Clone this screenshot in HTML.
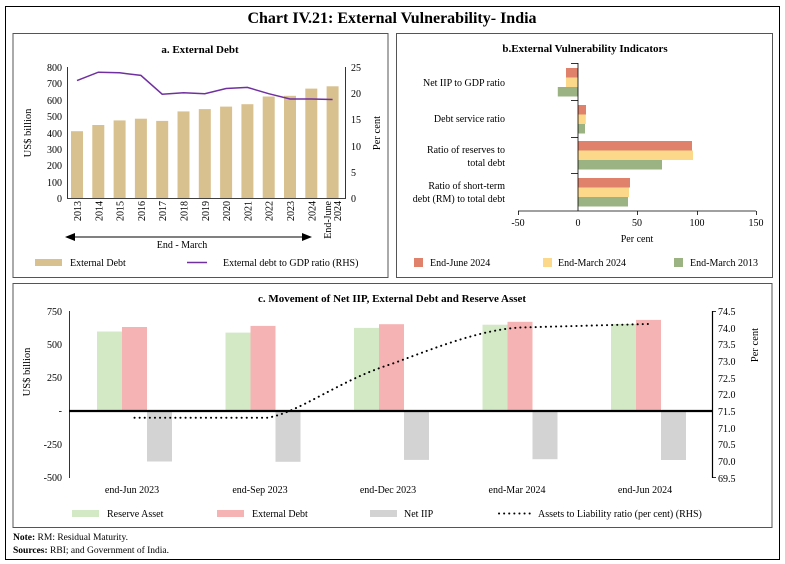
<!DOCTYPE html>
<html><head><meta charset="utf-8"><style>
html,body{margin:0;padding:0;background:#fff}
svg{display:block;font-family:"Liberation Serif",serif}
</style></head><body>
<svg width="785" height="564" viewBox="0 0 785 564" xmlns="http://www.w3.org/2000/svg">
<rect x="5.5" y="6.5" width="774" height="553" fill="none" stroke="#000" stroke-width="1"/>
<text x="392" y="23" text-anchor="middle" font-size="16" font-weight="bold">Chart IV.21: External Vulnerability- India</text>

<!-- Panel a -->
<rect x="13" y="33.5" width="375" height="244" fill="none" stroke="#555" stroke-width="1"/>
<text x="200" y="53" text-anchor="middle" font-size="11" font-weight="bold">a. External Debt</text>
<g fill="#d9c08f">
<rect x="71" y="131.2" width="12" height="66.8"/>
<rect x="92.3" y="125" width="12" height="73"/>
<rect x="113.6" y="120.4" width="12" height="77.6"/>
<rect x="134.9" y="118.7" width="12" height="79.3"/>
<rect x="156.2" y="120.9" width="12" height="77.1"/>
<rect x="177.5" y="111.4" width="12" height="86.6"/>
<rect x="198.8" y="109.1" width="12" height="88.9"/>
<rect x="220.1" y="106.6" width="12" height="91.4"/>
<rect x="241.4" y="104.2" width="12" height="93.8"/>
<rect x="262.7" y="96.5" width="12" height="101.5"/>
<rect x="284" y="95.8" width="12" height="102.2"/>
<rect x="305.3" y="88.6" width="12" height="109.4"/>
<rect x="326.6" y="86.3" width="12" height="111.7"/>
</g>
<polyline fill="none" stroke="#7030a0" stroke-width="1.5" points="77,80.6 98.3,72.2 119.6,72.8 140.9,75.4 162.2,94.2 183.5,92.7 204.8,93.7 226.1,88.5 247.4,87.4 268.7,93.7 290,99 311.3,99 332.6,99.5"/>
<g stroke="#000" stroke-width="0.8">
<line x1="67.5" y1="67" x2="67.5" y2="198"/>
<line x1="345.5" y1="67" x2="345.5" y2="198"/>
<line x1="67" y1="198.5" x2="346" y2="198.5"/>
</g>
<g font-size="10" text-anchor="end">
<text x="62" y="71">800</text><text x="62" y="87">700</text><text x="62" y="104">600</text><text x="62" y="120">500</text><text x="62" y="137">400</text><text x="62" y="153">300</text><text x="62" y="169">200</text><text x="62" y="186">100</text><text x="62" y="202">0</text>
</g>
<g font-size="10">
<text x="351" y="71">25</text><text x="351" y="97">20</text><text x="351" y="123">15</text><text x="351" y="150">10</text><text x="351" y="176">5</text><text x="351" y="202">0</text>
</g>
<text transform="translate(31,133) rotate(-90)" text-anchor="middle" font-size="10.5">US$ billion</text>
<text transform="translate(380,133) rotate(-90)" text-anchor="middle" font-size="10.5">Per cent</text>
<g font-size="10" text-anchor="end">
<text transform="translate(81,201) rotate(-90)">2013</text>
<text transform="translate(102.3,201) rotate(-90)">2014</text>
<text transform="translate(123.6,201) rotate(-90)">2015</text>
<text transform="translate(144.9,201) rotate(-90)">2016</text>
<text transform="translate(166.2,201) rotate(-90)">2017</text>
<text transform="translate(187.5,201) rotate(-90)">2018</text>
<text transform="translate(208.8,201) rotate(-90)">2019</text>
<text transform="translate(230.1,201) rotate(-90)">2020</text>
<text transform="translate(251.4,201) rotate(-90)">2021</text>
<text transform="translate(272.7,201) rotate(-90)">2022</text>
<text transform="translate(294,201) rotate(-90)">2023</text>
<text transform="translate(315.3,201) rotate(-90)">2024</text>
<text transform="translate(331,201) rotate(-90)">End-June</text>
<text transform="translate(341,201) rotate(-90)">2024</text>
</g>
<line x1="72" y1="237" x2="305" y2="237" stroke="#000" stroke-width="1"/>
<polygon points="65,237 75,233 75,241" fill="#000"/>
<polygon points="312,237 302,233 302,241" fill="#000"/>
<text x="182" y="248" text-anchor="middle" font-size="10">End - March</text>
<rect x="35" y="259" width="27" height="7" fill="#d9c08f"/>
<text x="70" y="266" font-size="10">External Debt</text>
<line x1="187" y1="262.5" x2="207" y2="262.5" stroke="#7030a0" stroke-width="1.5"/>
<text x="223" y="266" font-size="10">External debt to GDP ratio (RHS)</text>

<!-- Panel b -->
<rect x="396.5" y="33.5" width="376" height="244" fill="none" stroke="#555" stroke-width="1"/>
<text x="585" y="52" text-anchor="middle" font-size="11" font-weight="bold">b.External Vulnerability Indicators</text>
<g>
<rect x="566" y="68" width="12" height="9.5" fill="#e0826b"/>
<rect x="566" y="77.5" width="12" height="9.5" fill="#fcd98a"/>
<rect x="557.8" y="87" width="20.2" height="9.5" fill="#9bb283"/>
<rect x="578" y="105" width="8" height="9.5" fill="#e0826b"/>
<rect x="578" y="114.5" width="7.8" height="9.5" fill="#fcd98a"/>
<rect x="578" y="124" width="7" height="9.5" fill="#9bb283"/>
<rect x="578" y="141" width="114" height="9.5" fill="#e0826b"/>
<rect x="578" y="150.5" width="115" height="9.5" fill="#fcd98a"/>
<rect x="578" y="160" width="84" height="9.5" fill="#9bb283"/>
<rect x="578" y="178" width="52" height="9.5" fill="#e0826b"/>
<rect x="578" y="187.5" width="51" height="9.5" fill="#fcd98a"/>
<rect x="578" y="197" width="50" height="9.5" fill="#9bb283"/>
</g>
<g stroke="#000" stroke-width="0.8">
<line x1="578" y1="63" x2="578" y2="211"/>
<line x1="518" y1="211" x2="756" y2="211"/>
<line x1="571" y1="63.5" x2="578" y2="63.5"/><line x1="571" y1="100.5" x2="578" y2="100.5"/><line x1="571" y1="137.5" x2="578" y2="137.5"/><line x1="571" y1="173.5" x2="578" y2="173.5"/>
<line x1="518.5" y1="211" x2="518.5" y2="215"/><line x1="637.5" y1="211" x2="637.5" y2="215"/><line x1="697.5" y1="211" x2="697.5" y2="215"/><line x1="756.5" y1="211" x2="756.5" y2="215"/>
</g>
<g font-size="10" text-anchor="middle">
<text x="518" y="226">-50</text><text x="578" y="226">0</text><text x="637" y="226">50</text><text x="697" y="226">100</text><text x="756" y="226">150</text>
</g>
<text x="637" y="242" text-anchor="middle" font-size="10">Per cent</text>
<g font-size="10" text-anchor="end">
<text x="505" y="86">Net IIP to GDP ratio</text>
<text x="505" y="122">Debt service ratio</text>
<text x="505" y="153">Ratio of reserves to</text>
<text x="505" y="166">total debt</text>
<text x="505" y="189">Ratio of short-term</text>
<text x="505" y="202">debt (RM) to total debt</text>
</g>
<rect x="414" y="258" width="9" height="9" fill="#e0826b"/>
<text x="430" y="266" font-size="10">End-June 2024</text>
<rect x="543" y="258" width="9" height="9" fill="#fcd98a"/>
<text x="558" y="266" font-size="10">End-March 2024</text>
<rect x="674" y="258" width="9" height="9" fill="#9bb283"/>
<text x="690" y="266" font-size="10">End-March 2013</text>

<!-- Panel c -->
<rect x="13" y="283.5" width="759" height="244" fill="none" stroke="#555" stroke-width="1"/>
<text x="392" y="302" text-anchor="middle" font-size="11" font-weight="bold">c. Movement of Net IIP, External Debt and Reserve Asset</text>
<g>
<rect x="97" y="331.5" width="25" height="79.5" fill="#d3e9c6"/>
<rect x="122" y="327" width="25" height="84" fill="#f6b3b3"/>
<rect x="147" y="411" width="25" height="50.5" fill="#d3d3d3"/>
<rect x="225.5" y="332.6" width="25" height="78.4" fill="#d3e9c6"/>
<rect x="250.5" y="325.9" width="25" height="85.1" fill="#f6b3b3"/>
<rect x="275.5" y="411" width="25" height="50.8" fill="#d3d3d3"/>
<rect x="354" y="327.9" width="25" height="83.1" fill="#d3e9c6"/>
<rect x="379" y="324.2" width="25" height="86.8" fill="#f6b3b3"/>
<rect x="404" y="411" width="25" height="48.9" fill="#d3d3d3"/>
<rect x="482.5" y="324.7" width="25" height="86.3" fill="#d3e9c6"/>
<rect x="507.5" y="321.8" width="25" height="89.2" fill="#f6b3b3"/>
<rect x="532.5" y="411" width="25" height="48.2" fill="#d3d3d3"/>
<rect x="611" y="323.9" width="25" height="87.1" fill="#d3e9c6"/>
<rect x="636" y="319.9" width="25" height="91.1" fill="#f6b3b3"/>
<rect x="661" y="411" width="25" height="49" fill="#d3d3d3"/>
</g>
<path d="M134.5,417.7 L268,417.7 C300,412 340,380 391.5,364 C440,346 480,330 520,327.5 L648.5,324" fill="none" stroke="#000" stroke-width="2" stroke-dasharray="0.1,5" stroke-linecap="round"/>
<g stroke="#000">
<line x1="69.5" y1="311" x2="69.5" y2="478" stroke-width="0.8"/>
<line x1="712.5" y1="311" x2="712.5" y2="478" stroke-width="1.2"/>
<line x1="69" y1="411" x2="713" y2="411" stroke-width="2.2"/>
<line x1="712" y1="311.5" x2="716" y2="311.5" stroke-width="0.8"/>
<line x1="712" y1="477.5" x2="716" y2="477.5" stroke-width="0.8"/>
</g>
<g font-size="10" text-anchor="end">
<text x="62" y="315">750</text><text x="62" y="348">500</text><text x="62" y="381">250</text><text x="62" y="414">-</text><text x="62" y="448">-250</text><text x="62" y="481">-500</text>
</g>
<g font-size="10">
<text x="718" y="315">74.5</text><text x="718" y="332">74.0</text><text x="718" y="348">73.5</text><text x="718" y="365">73.0</text><text x="718" y="382">72.5</text><text x="718" y="398">72.0</text><text x="718" y="415">71.5</text><text x="718" y="432">71.0</text><text x="718" y="448">70.5</text><text x="718" y="465">70.0</text><text x="718" y="482">69.5</text>
</g>
<text transform="translate(30,372) rotate(-90)" text-anchor="middle" font-size="10.5">US$ billion</text>
<text transform="translate(758,345) rotate(-90)" text-anchor="middle" font-size="10.5">Per cent</text>
<g font-size="10" text-anchor="middle">
<text x="132" y="493">end-Jun 2023</text><text x="260" y="493">end-Sep 2023</text><text x="388" y="493">end-Dec 2023</text><text x="517" y="493">end-Mar 2024</text><text x="645" y="493">end-Jun 2024</text>
</g>
<rect x="72" y="510" width="27" height="7" fill="#d3e9c6"/>
<text x="107" y="517" font-size="10">Reserve Asset</text>
<rect x="217" y="510" width="27" height="7" fill="#f6b3b3"/>
<text x="252" y="517" font-size="10">External Debt</text>
<rect x="370" y="510" width="27" height="7" fill="#d3d3d3"/>
<text x="404" y="517" font-size="10">Net IIP</text>
<line x1="499" y1="513.5" x2="530" y2="513.5" stroke="#000" stroke-width="2" stroke-dasharray="0.1,5" stroke-linecap="round"/>
<text x="538" y="517" font-size="10">Assets to Liability ratio (per cent) (RHS)</text>

<text x="13" y="540" font-size="9.5"><tspan font-weight="bold">Note:</tspan> RM: Residual Maturity.</text>
<text x="13" y="553" font-size="9.5"><tspan font-weight="bold">Sources:</tspan> RBI; and Government of India.</text>
</svg>
</body></html>
